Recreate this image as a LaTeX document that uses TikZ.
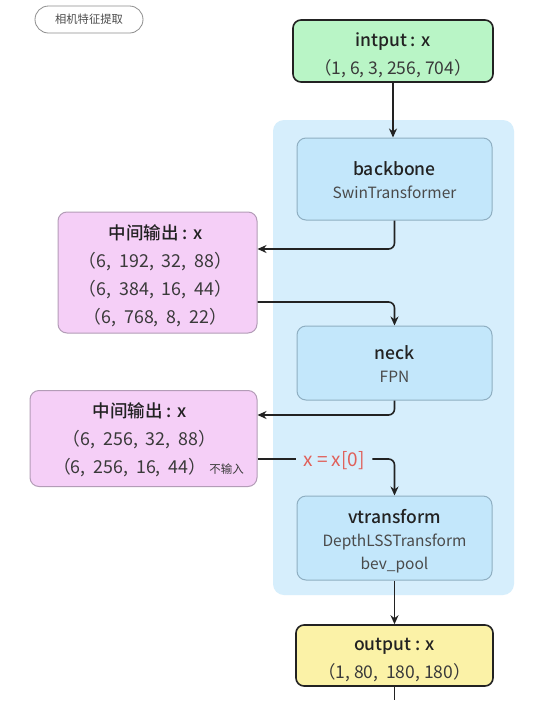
\documentclass[tikz,border=0pt]{standalone}
\usepackage{fontspec}
\setmainfont{Noto Sans CJK SC}[BoldFont={Noto Sans CJK SC Medium}]
\usetikzlibrary{arrows.meta}
\definecolor{gfill}{HTML}{B9F5C6}
\definecolor{cont}{HTML}{D6EEFC}
\definecolor{bfill}{HTML}{C3E7FB}
\definecolor{bdraw}{HTML}{8FAFC2}
\definecolor{pfill}{HTML}{F5CFF7}
\definecolor{pdraw}{HTML}{B39CB7}
\definecolor{yfill}{HTML}{FBF2A7}
\definecolor{lab}{HTML}{E0605A}
\definecolor{txt}{HTML}{222222}
\definecolor{num}{HTML}{3A3A3A}
\definecolor{sub}{HTML}{4A4A4A}
\newcommand{\ttlfont}{\fontsize{17.5}{28}\selectfont\bfseries\color{txt}}
\begin{document}
\begin{tikzpicture}[x=1pt,y=-1pt,
  io/.style={draw=txt,line width=1.6pt,rounded corners=8pt,inner sep=0pt},
  iotext/.style={align=center,inner sep=0pt,text=num,font=\fontsize{17.5}{28}\selectfont},
  mod/.style={draw=bdraw,line width=1pt,fill=bfill,rounded corners=9pt,inner sep=0pt,minimum width=195pt},
  modtext/.style={align=center,inner sep=0pt,text=sub,font=\fontsize{15.5}{23}\selectfont},
  mid/.style={draw=pdraw,line width=1pt,fill=pfill,rounded corners=9pt,inner sep=0pt},
  midtext/.style={align=center,inner sep=0pt,text=num,font=\fontsize{17.8}{28}\selectfont},
  arr/.style={-{Stealth[length=9pt,width=8pt]},line width=1.6pt,draw=txt,rounded corners=6pt},
  ln/.style={line width=1.6pt,draw=txt,rounded corners=6pt}]
\useasboundingbox (0,0) rectangle (533,710);
\fill[white] (0,0) rectangle (533,710);
% container
\node[fill=cont,rounded corners=11pt,minimum width=241pt,minimum height=475pt,inner sep=0pt] (cont) at (393.5,357.5) {};
% tag
\node[draw=black!45,line width=0.8pt,rounded corners=13.5pt,minimum width=108pt,minimum height=27pt,inner sep=0pt,text=black!70,font=\fontsize{11.3}{11.3}\selectfont] (tag) at (89,19.5) {相机特征提取};
% input
\node[io,fill=gfill,minimum width=200pt,minimum height=62pt] (in) at (393,51) {};
\node[iotext] (intext) at ([yshift=-4.5pt]in.center) {{\ttlfont intput : x}\\（1, 6, 3, 256, 704）};
% modules
\node[mod,minimum height=82pt] (bb) at (394.5,179) {};
\node[modtext] (bbtext) at ([yshift=-1.5pt]bb.center) {{\ttlfont backbone}\\SwinTransformer};
\node[mod,minimum height=74pt] (neck) at (394.5,363) {};
\node[modtext] (necktext) at ([yshift=-1pt]neck.center) {{\ttlfont neck}\\FPN};
\node[mod,minimum height=84pt] (vt) at (394.5,538) {};
\node[modtext] (vttext) at ([yshift=-3pt]vt.center) {{\ttlfont vtransform}\\DepthLSSTransform\\bev\_pool};
\node[io,fill=yfill,minimum width=197pt,minimum height=61pt] (out) at (394.5,655.5) {};
\node[iotext] (outtext) at ([yshift=-4.5pt]out.center) {{\ttlfont output : x}\\（1, 80,\ \ 180, 180）};
% intermediate outputs
\node[mid,minimum width=199pt,minimum height=121pt] (p1) at (157.5,272.5) {};
\node[midtext] (p1text) at ([yshift=-3pt,xshift=-2pt]p1.center)
  {{\ttlfont 中间输出 : x}\\（6,\ \ 192,\ \ 32,\ \ 88）\\（6,\ \ 384,\ \ 16,\ \ 44）\\（6,\ \ 768,\ \ 8,\ \ 22）};
\node[mid,minimum width=227pt,minimum height=96pt] (p2) at (143.5,438.5) {};
\node[midtext] (p2text) at ([yshift=-1.5pt,xshift=-4pt]p2.center)
  {{\ttlfont 中间输出 : x}\\（6,\ \ 256,\ \ 32,\ \ 88）\\\hspace{18pt}（6,\ \ 256,\ \ 16,\ \ 44）\,{\fontsize{11.5}{11.5}\selectfont 不输入}};
% label
\node[text=lab,font=\fontsize{19}{19}\selectfont,inner xsep=7.5pt,inner ysep=2pt] (xl) at (334,461) {x = x[0]};
\coordinate (end) at (394.5,700);
% connectors
\draw[arr] (in.south) -- (in.south |- bb.north);
\draw[arr] (bb.south) |- ([yshift=23.5pt]p1.east);
\draw[arr] ([yshift=-29.5pt]p1.east) -| (neck.north);
\draw[arr] (neck.south) |- ([yshift=23.5pt]p2.east);
\draw[ln] ([yshift=-20.5pt]p2.east) -- ([yshift=2pt]xl.west);
\draw[arr] ([yshift=2pt]xl.east) -| (vt.north);
\draw[arr] (vt.south) -- (out.north);
\draw[ln] (out.south) -- (end);
\end{tikzpicture}
\end{document}
